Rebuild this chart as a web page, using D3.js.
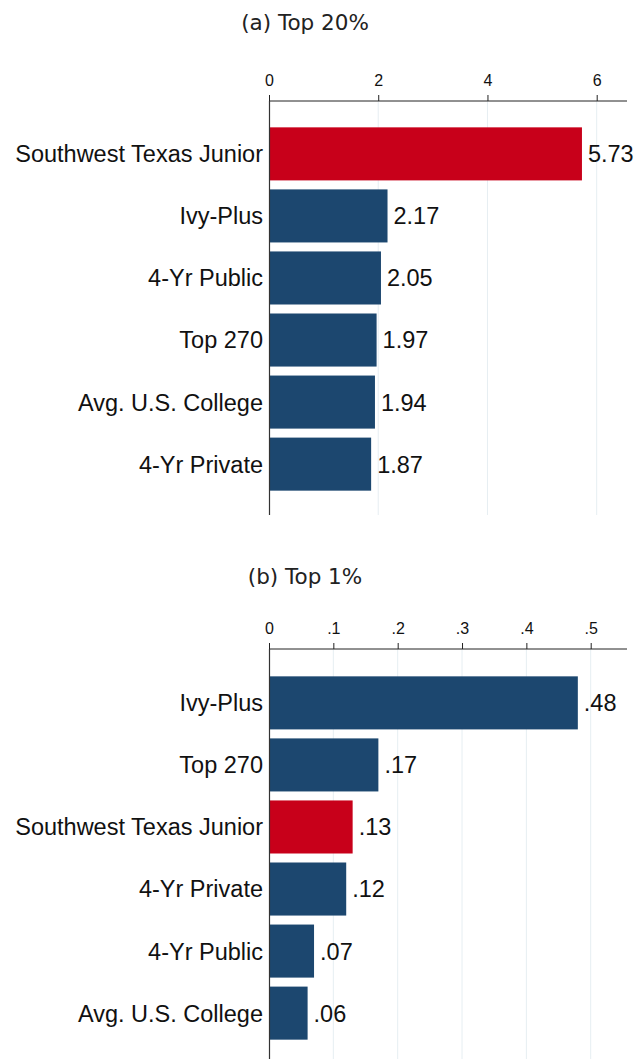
<!DOCTYPE html>
<html>
<head>
<meta charset="utf-8">
<script src="https://cdn.jsdelivr.net/npm/d3@7"></script>
<style>
body { margin: 0; background: #fff; }
svg { display: block; }
</style>
</head>
<body>
<script>
// panel (a): top 20%
var catsA = ["Southwest Texas Junior", "Ivy-Plus", "4-Yr Public", "Top 270", "Avg. U.S. College", "4-Yr Private"]
var valsA = [5.73, 2.17, 2.05, 1.97, 1.94, 1.87]
var ticksA = [0, 2, 4, 6]

// panel (b): top 1%
var catsB = ["Ivy-Plus", "Top 270", "Southwest Texas Junior", "4-Yr Private", "4-Yr Public", "Avg. U.S. College"]
var valsB = [0.48, 0.17, 0.13, 0.12, 0.07, 0.06]
var ticksB = [0, 0.1, 0.2, 0.3, 0.4, 0.5]

var highlight = "Southwest Texas Junior"
var red = "#c8001a"
var blue = "#1c476f"

var W = 636, H = 1059
var svg = d3.select("body").append("svg").attr("width", W).attr("height", H)

// stata style numbers: drop the leading zero
function stataFmt(v, dec) {
	var s = v.toFixed(dec)
	if (s.indexOf("0.") === 0) s = s.slice(1)
	if (+v === 0) s = "0"
	return s
}

function drawPanel(opt) {
	var g = svg.append("g")
	var left = 269, right = 627

	var x = d3.scaleLinear().domain([0, opt.xAt]).range([left, opt.xPx])
	var y = d3.scaleBand().domain(opt.cats).range([opt.barTop, opt.barTop + 62 * opt.cats.length]).paddingInner(0.145).paddingOuter(0.07)

	// title
	g.append("text")
		.attr("x", 305).attr("y", opt.titleY)
		.attr("text-anchor", "middle")
		.attr("font-family", "DejaVu Sans")
		.attr("font-size", 21.5)
		.attr("fill", "#222")
		.text(opt.title)

	// gridlines
	g.selectAll(".grid").data(opt.ticks.filter(function(d) { return d > 0 }))
		.enter().append("line")
		.attr("x1", function(d) { return x(d) }).attr("x2", function(d) { return x(d) })
		.attr("y1", opt.axisY).attr("y2", opt.axisBottom)
		.attr("stroke", "#e6eef2").attr("stroke-width", 1)

	// bars
	g.selectAll("rect").data(opt.vals).enter().append("rect")
		.attr("x", x(0))
		.attr("y", function(d, i) { return y(opt.cats[i]) })
		.attr("width", function(d) { return x(d) - x(0) })
		.attr("height", y.bandwidth())
		.attr("fill", function(d, i) { return opt.cats[i] === highlight ? red : blue })

	// value labels
	g.selectAll(".val").data(opt.vals).enter().append("text")
		.attr("x", function(d) { return x(d) + 6 })
		.attr("y", function(d, i) { return y(opt.cats[i]) + y.bandwidth() / 2 })
		.attr("dy", "0.36em")
		.attr("font-family", "Liberation Sans, Arial, sans-serif")
		.attr("font-size", 23.5)
		.attr("fill", "#111")
		.text(function(d) { return stataFmt(d, 2) })

	// category labels
	g.selectAll(".cat").data(opt.cats).enter().append("text")
		.attr("x", left - 6)
		.attr("y", function(d) { return y(d) + y.bandwidth() / 2 })
		.attr("dy", "0.36em")
		.attr("text-anchor", "end")
		.attr("font-family", "Liberation Sans, Arial, sans-serif")
		.attr("font-size", 23.5)
		.attr("fill", "#111")
		.text(function(d) { return d })

	// top axis
	var axis = d3.axisTop(x).tickValues(opt.ticks).tickSize(6).tickSizeOuter(0)
		.tickFormat(function(d) { return stataFmt(d, opt.tickDec) })
	var ag = g.append("g").attr("transform", "translate(0," + opt.axisY + ")").call(axis)
	ag.select(".domain").remove()
	ag.append("line").attr("x1", left).attr("x2", right).attr("stroke", "#222").attr("stroke-width", 1)
	ag.selectAll(".tick line").attr("stroke", "#222")
	ag.selectAll(".tick text")
		.attr("font-family", "Liberation Sans, Arial, sans-serif")
		.attr("font-size", 16)
		.attr("fill", "#111")
		.attr("dy", "-0.35em")

	// vertical axis line
	g.append("line")
		.attr("x1", left + 0.5).attr("x2", left + 0.5)
		.attr("y1", opt.axisY).attr("y2", opt.axisBottom)
		.attr("stroke", "#333").attr("stroke-width", 1.2)
}

drawPanel({
	title: "(a) Top 20%", titleY: 30,
	cats: catsA, vals: valsA, ticks: ticksA, tickDec: 0,
	xAt: 6, xPx: 596.7,
	axisY: 101, axisBottom: 515, barTop: 123
})

drawPanel({
	title: "(b) Top 1%", titleY: 584,
	cats: catsB, vals: valsB, ticks: ticksB, tickDec: 1,
	xAt: 0.5, xPx: 590.7,
	axisY: 649, axisBottom: 1062, barTop: 672
})
</script>
</body>
</html>
